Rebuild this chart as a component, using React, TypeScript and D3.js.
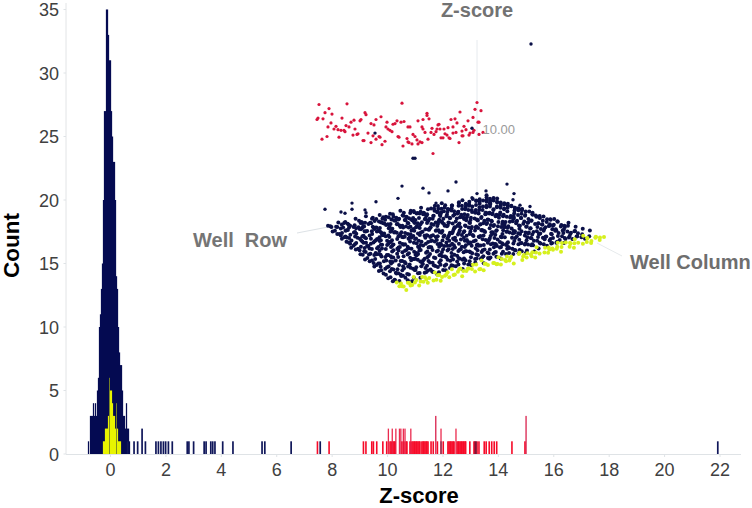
import React from "react";
import * as d3 from "d3";

const WIDTH = 752;
const HEIGHT = 508;
const NAVY = "#050b52";
const DOT_NAVY = "#0b1048";
const RED = "#f60a28";
const DOT_RED = "#d8143c";
const YELLOW = "#e8f400";
const DOT_YELLOW = "#d6f01e";
const FONT = "'Liberation Sans', Arial, sans-serif";

const xTicks = [0, 2, 4, 6, 8, 10, 12, 14, 16, 18, 20, 22];
const yTicks = [0, 5, 10, 15, 20, 25, 30, 35];

const binStart = -0.812;
const binWidth = 0.0361;
const navyCounts = [1,0,3,3,3,4,3,4,3,5,6,10,11,13,15,20,27,27,35,35,33,31,31,27,25,23,23,20,14,13,10,8,7,7,5,3,3,2,4,2,2,1];
const yellowStart = -0.271;
const yellowCounts = [1,1,2,2,2,3,6,5,5,4,3,3,2,4,2,1,1,1];
const navySingles: [number, number][] = [
  [0.62,1],[0.85,1],[0.98,1],[1.14,2],[1.26,1],[1.64,1],[1.73,1],[1.82,1],[1.91,1],[1.99,1],[2.09,1],[2.23,1],
  [2.77,1],[2.83,1],[3.0,1],[3.38,1],[3.45,1],[3.62,1],[3.69,1],[3.77,1],[4.05,1],[4.42,1],[5.47,1],[5.57,1],
  [6.52,1],[7.57,1],[21.92,1],
];
const redSingles = [
  7.47,7.89,9.13,9.22,9.43,9.49,9.61,9.83,9.97,10.09,10.13,10.20,10.24,10.27,10.52,10.59,10.67,10.70,
  10.81,10.88,10.92,10.96,10.99,11.03,11.06,11.10,11.14,11.17,11.24,11.28,11.31,11.35,11.39,11.42,11.46,
  11.57,11.65,11.80,12.01,12.18,12.22,12.26,12.29,12.33,12.37,12.40,12.51,12.55,12.58,12.62,12.66,12.69,
  12.73,12.76,12.80,12.82,12.97,13.12,13.16,13.23,13.30,13.49,13.56,13.67,13.76,13.85,13.94,14.49,14.96,
];
const redDoubles = [10.03,10.17,10.30,10.43,10.48,10.57,10.63,10.84,11.93,12.47];
const redTriples = [11.74,15.0];
const overlapBars = [11.93,13.16,13.2];

// Well plate: one string per row, one digit per column (z-score offset in tenths, "." = hidden well)
const navyPlate = [
  "47.2638.1590.4726.38.15.4792.6.3815.7.42963.5817",
  "2.5813.7.4692.853.17.6942.58.3716.94.2.58.36.174",
  "71.4936.28.53.741.8625.93.47.1682.5.3974.16.2853",
  "3.862.574.19.3682.4.759.136.847.25.9163.48.27.59",
  "58.2.7139.4682.517.39.64.285.713.96.4.28.571.396",
  "2.964.15.738.26.49.517.83.6.294.158.37.6.249.158",
  "647.3.82.159.46.37.825.14.96.37.285.16.49.73.826",
  "1.83.596.247.58.13.964.27.58.316.94.25.87.136.49",
  "59.274.1.86.35.792.46.18.53.79.24.681.35.97.2.46",
  "3.618.49.257.36.84.19.625.73.48.16.952.37.84.165",
  "84.25.736.19.48.627.35.8.14.96.27.53.81.46.92.37",
  "2.697.13.58.24.76.391.58.2.64.73.195.82.46.371.5",
  "57.31.86.492.15.73.68.24.951.37.86.14.29.57.36.8",
  "1.84.62.37.59.148.26.73.95.18.46.237.59.81.64.29",
  "63.297.15.84.36.72.19.584.26.37.91.58.4.263.71.9",
  "4.58.13.76.29.48.651.37.82.94.16.53.78.24.69.135",
  "82.46.95.1.37.86.24.59.713.48.26.97.15.38.64.2.7",
  "3.71.58.264.93.17.58.42.69.3.71.85.246.93.17.586",
  "59.24.73.16.85.49.27.63.18.954.27.36.81.59.47.23",
  "1.86.39.54.72.61.384.95.27.16.48.53.79.26.14.685",
  "74.25.18.693.47.58.12.76.39.54.86.21.47.93.65.18",
  "26.83.47.51.96.28.34.751.68.39.24.17.85.64.23.79",
  "8.51.69.32.74.85.16.49.27.53.86.94.1.36.72.58.41",
  "43.78.25.16.93.47.62.58.19.34.77.26.58.41.93.62.",
  "6.29.54.81.37.62.95.13.48.75.26.39.64.18.52.87.3",
  "51.74.38.26.95.41.78.36.29.14.83.57.62.49.31.76.",
  "7.36.92.15.48.73.26.59.84.61.37.25.94.18.46.53.2",
  "38.54.17.69.25.83.47.16.93.52.78.34.61.29.85.47.",
  "6.15.83.42.97.36.58.24.71.46.39.82.15.67.34.58.1",
  "24.69.71.38.53.19.64.82.37.25.48.96.53.17.42.86.",
];
const yellowPlate = [
  "36.81.49.27.63.5.84.17.92.46.38.71.59.24.83.16.7",
  "573826149375.82646193.58274.16395.82746135.92846",
  "2941736.58264193.7582.46139.75284.6139.582.47163",
];
const redWells: [number, number][] = [
  [19,13.6],[47,13.7],[102,13.8],[177,13.9],[29,13.0],[25,12.4],[32,12.2],[18,11.6],[17,11.4],[23,11.5],
  [42,11.6],[65,12.4],[66,12.1],[81,11.8],[76,11.4],[54,11.3],[51,11.0],[46,10.5],[31,10.9],[28,10.3],
  [36,10.4],[49,10.3],[34,10.0],[38,9.9],[41,9.8],[44,9.8],[45,9.6],[55,10.0],[61,11.4],[60,11.2],
  [71,10.8],[74,10.6],[87,11.0],[86,10.3],[88,10.0],[90,9.8],[92,9.6],[93,10.7],[95,10.8],[97,11.2],
  [101,11.0],[104,11.1],[108,10.3],[110,10.3],[118,11.2],[123,11.4],[127,12.3],[127,12.0],[129,11.5],
  [138,10.6],[139,10.7],[122,10.3],[123,10.0],[132,10.1],[137,10.0],[140,10.0],[144,10.0],[148,10.2],
  [151,11.4],[155,11.5],[157,10.9],[160,12.5],[153,10.3],[164,10.4],[168,11.2],[173,11.7],[175,12.9],
  [181,12.7],[178,11.0],[179,11.0],[166,9.9],[162,9.7],[156,9.5],[153,9.4],[147,9.1],[145,9.3],[141,8.7],
  [143,8.7],[149,8.7],[150,8.6],[159,8.0],[162,9.0],[163,9.0],[169,9.1],[170,9.4],[174,9.8],[173,9.5],
  [179,9.2],[183,9.5],[125,9.5],[131,9.5],[134,9.2],[136,9.6],[128,8.5],[122,8.0],[118,7.8],[120,8.1],
  [117,8.4],[115,8.9],[113,9.2],[107,8.6],[112,7.8],[108,8.1],[103,7.5],[109,8.0],[98,8.9],[99,8.8],
  [85,8.2],[82,7.7],[76,8.5],[79,8.9],[80,8.8],[73,9.0],[71,8.0],[68,9.4],[64,8.3],[63,8.3],[58,9.3],
  [57,9.2],[53,9.1],[39,8.8],[27,8.9],[22,8.5],[133,6.4],
];
const navyWells: [number, number][] = [
  [231,22.5],[75,9.4],[172,10.1],[113,5.7],[115,5.7],[102,1.6],[123,1.3],[129,0.6],[148,0.9],[156,2.2],
  [207,1.9],[214,0.5],[98,-0.2],[172,-0.1],[177,0.5],[186,0.9],[25,-1.8],[41,-2.2],[45,-2.4],[52,-0.9],
  [52,-1.8],[76,-0.7],[65,-1.9],[66,-2.3],[136,-0.9],[220,-1.2],[230,-1.4],[213,-0.4],
];

const x = d3.scaleLinear().domain([0, 22]).range([110.5, 720]);
const y = d3.scaleLinear().domain([0, 35]).range([454, 9.5]);
const wellX = d3.scaleLinear().domain([0, 260]).range([300, 560]);
const wellZ = d3.scaleLinear().domain([0, 10]).range([197, 129]);
const plateBack = d3.scaleLinear<number[]>().domain([0, 47]).range([[328, 226], [490, 197]] as any);
const plateFront = d3.scaleLinear<number[]>().domain([0, 47]).range([[402, 288], [604, 238]] as any);

function plateDots(rows: string[], firstRow: number, step: number) {
  const out: { cx: number; cy: number }[] = [];
  rows.forEach((row, ri) => {
    row.split("").forEach((ch, c) => {
      if (ch === ".") return;
      const t = (firstRow + ri * step) / 31;
      const a = plateBack(c) as unknown as number[];
      const b = plateFront(c) as unknown as number[];
      out.push({
        cx: a[0] + (b[0] - a[0]) * t,
        cy: a[1] + (b[1] - a[1]) * t + (wellZ(0) - wellZ((+ch - 4.5) / 10)),
      });
    });
  });
  return out;
}

const bar = (z: number, n: number, color: string, w = 1.3, op = 1, key = "") => (
  <rect key={key} x={x(z) - w / 2} y={y(n)} width={w} height={y(0) - y(n)} fill={color} opacity={op} />
);

export default function App() {
  const navyDots = plateDots(navyPlate, 0, 0.97);
  const yellowDots = plateDots(yellowPlate, 28.8, 1.1);
  const pxBin = x(binWidth) - x(0);
  return (
    <svg width={WIDTH} height={HEIGHT} style={{ position: "absolute", left: 0, top: 0, background: "#fff" }} fontFamily={FONT}>
      {/* axes */}
      <line x1={66} x2={66} y1={3} y2={454} stroke="#e2e4e6" />
      <line x1={66} x2={741} y1={454.5} y2={454.5} stroke="#dfe3e6" />
      {yTicks.map((t) => (
        <g key={t}>
          <line x1={63.5} x2={66} y1={y(t)} y2={y(t)} stroke="#dfe3e6" />
          <text x={59} y={y(t) + 6.5} textAnchor="end" fontSize={18} fill="#404040">{t}</text>
        </g>
      ))}
      {xTicks.map((t) => (
        <g key={t}>
          <line x1={x(t)} x2={x(t)} y1={454} y2={457} stroke="#dfe3e6" />
          <text x={x(t)} y={475.5} textAnchor="middle" fontSize={18} fill="#404040">{t}</text>
        </g>
      ))}
      <text transform="translate(19,245.5) rotate(-90)" textAnchor="middle" fontSize={22.5} fontWeight={700} fill="#000">Count</text>
      <text x={419} y={503.2} textAnchor="middle" fontSize={22} fontWeight={700} fill="#000">Z-score</text>

      {/* histogram */}
      {navyCounts.map((n, i) => n > 0 && bar(binStart + i * binWidth + binWidth / 2, n, NAVY, pxBin + 0.25, 1, `n${i}`))}
      {navySingles.map(([z, n], i) => bar(z, n, "#10175a", 1.7, 1, `s${i}`))}
      {yellowCounts.map((n, i) => bar(yellowStart + i * binWidth + binWidth / 2, n, n === 6 || (n === 4 && i === 13) ? "#8f9a20" : YELLOW, n === 6 || (n === 4 && i === 13) ? 0.8 : pxBin + 0.2, 1, `y${i}`))}
      {redSingles.map((z, i) => bar(z, 1, RED, 1.6, 1, `r${i}`))}
      {redDoubles.map((z, i) => bar(z, 2, "#e8143c", 1.3, 0.9, `d${i}`))}
      {redTriples.map((z, i) => bar(z, 3, "#d81c48", 1.4, 0.9, `t${i}`))}
      {overlapBars.map((z, i) => bar(z, 1, "#4a0a30", 1.2, 0.75, `o${i}`))}

      {/* 3D plate inset */}
      <line x1={477} x2={477} y1={40} y2={197} stroke="#e6eaee" />
      <line x1={297} y1={233} x2={328} y2={227} stroke="#dde2e6" />
      <line x1={597} y1={243} x2={622} y2={256} stroke="#e6eaec" />
      {navyDots.map((d, i) => <circle key={i} cx={d.cx} cy={d.cy} r={2} fill={DOT_NAVY} />)}
      {yellowDots.map((d, i) => <circle key={i} cx={d.cx} cy={d.cy} r={2} fill={DOT_YELLOW} />)}
      {redWells.map(([p, z], i) => <circle key={i} cx={wellX(p)} cy={wellZ(z)} r={1.6} fill={DOT_RED} />)}
      {navyWells.map(([p, z], i) => <circle key={i} cx={wellX(p)} cy={wellZ(z)} r={1.7} fill={DOT_NAVY} />)}

      <text x={477} y={17} textAnchor="middle" fontSize={20} fontWeight={700} fill="#727272">Z-score</text>
      <text x={482.5} y={134} fontSize={13} fill="#9a9a9a">10.00</text>
      <text x={193} y={247} fontSize={20} fontWeight={700} fill="#757575" style={{ whiteSpace: "pre" }}>Well  Row</text>
      <text x={630} y={269} fontSize={20} fontWeight={700} fill="#6e6e6e">Well Column</text>
    </svg>
  );
}
